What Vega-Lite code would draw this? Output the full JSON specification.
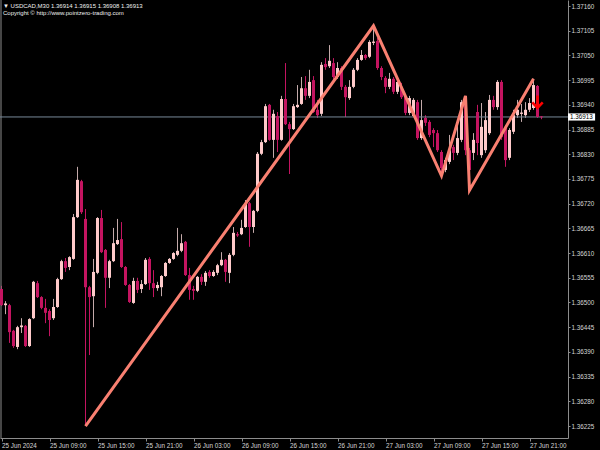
{
  "$schema": "https://vega.github.io/schema/vega-lite/v6.json",
  "width": 568,
  "height": 438,
  "autosize": {"type": "none"},
  "padding": {"left": 0, "top": 0, "right": 32, "bottom": 12},
  "background": "#000000",
  "title": {
    "text": ["▼ USDCAD,M30  1.36914 1.36915 1.36908 1.36913", "Copyright © http://www.pointzero-trading.com"],
    "anchor": "start",
    "frame": "group",
    "orient": "top",
    "offset": -16,
    "baseline": "top",
    "fontSize": 6,
    "lineHeight": 7,
    "font": "Liberation Sans",
    "fontWeight": "normal",
    "color": "#f0f0f0",
    "dx": 3
  },
  "config": {
    "view": {"stroke": null},
    "axis": {
      "domainColor": "#8c8c8c",
      "tickColor": "#8c8c8c",
      "labelColor": "#d6d6d6",
      "labelFont": "Liberation Sans",
      "labelFontSize": 6.3,
      "grid": false,
      "labelFlush": false,
      "labelOverlap": false,
      "tickSize": 3,
      "domainWidth": 1,
      "tickWidth": 1
    }
  },
  "datasets": {
    "candles": [
      {"i":0,"o":1.36530,"h":1.36537,"l":1.36492,"c":1.36494},
      {"i":1,"o":1.36494,"h":1.36503,"l":1.36474,"c":1.36497},
      {"i":2,"o":1.36494,"h":1.36497,"l":1.36410,"c":1.36434},
      {"i":3,"o":1.36437,"h":1.36439,"l":1.36399,"c":1.36403},
      {"i":4,"o":1.36401,"h":1.36448,"l":1.36396,"c":1.36445},
      {"i":5,"o":1.36445,"h":1.36465,"l":1.36432,"c":1.36448},
      {"i":6,"o":1.36448,"h":1.36450,"l":1.36401,"c":1.36403},
      {"i":7,"o":1.36403,"h":1.36465,"l":1.36401,"c":1.36463},
      {"i":8,"o":1.36465,"h":1.36548,"l":1.36463,"c":1.36546},
      {"i":9,"o":1.36543,"h":1.36548,"l":1.36510,"c":1.36512},
      {"i":10,"o":1.36512,"h":1.36514,"l":1.36485,"c":1.36488},
      {"i":11,"o":1.36488,"h":1.36508,"l":1.36454,"c":1.36477},
      {"i":12,"o":1.36481,"h":1.36485,"l":1.36425,"c":1.36461},
      {"i":13,"o":1.36465,"h":1.36508,"l":1.36461,"c":1.36490},
      {"i":14,"o":1.36490,"h":1.36555,"l":1.36488,"c":1.36552},
      {"i":15,"o":1.36552,"h":1.36595,"l":1.36550,"c":1.36592},
      {"i":16,"o":1.36592,"h":1.36599,"l":1.36568,"c":1.36577},
      {"i":17,"o":1.36579,"h":1.36603,"l":1.36572,"c":1.36601},
      {"i":18,"o":1.36597,"h":1.36697,"l":1.36595,"c":1.36690},
      {"i":19,"o":1.36690,"h":1.36802,"l":1.36688,"c":1.36773},
      {"i":20,"o":1.36770,"h":1.36773,"l":1.36697,"c":1.36701},
      {"i":21,"o":1.36686,"h":1.36708,"l":1.36225,"c":1.36534},
      {"i":22,"o":1.36534,"h":1.36537,"l":1.36383,"c":1.36512},
      {"i":23,"o":1.36514,"h":1.36597,"l":1.36445,"c":1.36568},
      {"i":24,"o":1.36566,"h":1.36690,"l":1.36563,"c":1.36688},
      {"i":25,"o":1.36688,"h":1.36706,"l":1.36610,"c":1.36612},
      {"i":26,"o":1.36617,"h":1.36619,"l":1.36488,"c":1.36555},
      {"i":27,"o":1.36555,"h":1.36595,"l":1.36532,"c":1.36592},
      {"i":28,"o":1.36592,"h":1.36666,"l":1.36590,"c":1.36632},
      {"i":29,"o":1.36630,"h":1.36686,"l":1.36628,"c":1.36639},
      {"i":30,"o":1.36641,"h":1.36679,"l":1.36577,"c":1.36579},
      {"i":31,"o":1.36579,"h":1.36581,"l":1.36537,"c":1.36539},
      {"i":32,"o":1.36539,"h":1.36541,"l":1.36499,"c":1.36501},
      {"i":33,"o":1.36499,"h":1.36555,"l":1.36497,"c":1.36548},
      {"i":34,"o":1.36548,"h":1.36555,"l":1.36521,"c":1.36528},
      {"i":35,"o":1.36530,"h":1.36550,"l":1.36521,"c":1.36541},
      {"i":36,"o":1.36541,"h":1.36599,"l":1.36539,"c":1.36595},
      {"i":37,"o":1.36597,"h":1.36601,"l":1.36528,"c":1.36543},
      {"i":38,"o":1.36543,"h":1.36572,"l":1.36512,"c":1.36532},
      {"i":39,"o":1.36532,"h":1.36546,"l":1.36526,"c":1.36539},
      {"i":40,"o":1.36534,"h":1.36561,"l":1.36514,"c":1.36559},
      {"i":41,"o":1.36559,"h":1.36590,"l":1.36557,"c":1.36588},
      {"i":42,"o":1.36588,"h":1.36599,"l":1.36586,"c":1.36597},
      {"i":43,"o":1.36597,"h":1.36612,"l":1.36595,"c":1.36610},
      {"i":44,"o":1.36606,"h":1.36666,"l":1.36603,"c":1.36615},
      {"i":45,"o":1.36615,"h":1.36652,"l":1.36612,"c":1.36632},
      {"i":46,"o":1.36635,"h":1.36637,"l":1.36559,"c":1.36561},
      {"i":47,"o":1.36561,"h":1.36577,"l":1.36506,"c":1.36528},
      {"i":48,"o":1.36530,"h":1.36537,"l":1.36506,"c":1.36526},
      {"i":49,"o":1.36526,"h":1.36559,"l":1.36523,"c":1.36557},
      {"i":50,"o":1.36557,"h":1.36563,"l":1.36539,"c":1.36546},
      {"i":51,"o":1.36546,"h":1.36570,"l":1.36537,"c":1.36566},
      {"i":52,"o":1.36568,"h":1.36572,"l":1.36555,"c":1.36559},
      {"i":53,"o":1.36559,"h":1.36572,"l":1.36557,"c":1.36568},
      {"i":54,"o":1.36566,"h":1.36586,"l":1.36561,"c":1.36583},
      {"i":55,"o":1.36583,"h":1.36612,"l":1.36581,"c":1.36595},
      {"i":56,"o":1.36595,"h":1.36597,"l":1.36546,"c":1.36568},
      {"i":57,"o":1.36566,"h":1.36610,"l":1.36543,"c":1.36606},
      {"i":58,"o":1.36606,"h":1.36668,"l":1.36603,"c":1.36655},
      {"i":59,"o":1.36652,"h":1.36657,"l":1.36646,"c":1.36650},
      {"i":60,"o":1.36652,"h":1.36684,"l":1.36650,"c":1.36666},
      {"i":61,"o":1.36668,"h":1.36728,"l":1.36666,"c":1.36721},
      {"i":62,"o":1.36721,"h":1.36724,"l":1.36624,"c":1.36668},
      {"i":63,"o":1.36668,"h":1.36706,"l":1.36655,"c":1.36704},
      {"i":64,"o":1.36704,"h":1.36835,"l":1.36701,"c":1.36831},
      {"i":65,"o":1.36831,"h":1.36862,"l":1.36828,"c":1.36857},
      {"i":66,"o":1.36857,"h":1.36942,"l":1.36855,"c":1.36937},
      {"i":67,"o":1.36940,"h":1.36942,"l":1.36860,"c":1.36862},
      {"i":68,"o":1.36862,"h":1.36929,"l":1.36822,"c":1.36920},
      {"i":69,"o":1.36915,"h":1.36924,"l":1.36835,"c":1.36862},
      {"i":70,"o":1.36862,"h":1.36960,"l":1.36860,"c":1.36953},
      {"i":71,"o":1.36953,"h":1.37033,"l":1.36895,"c":1.36897},
      {"i":72,"o":1.36897,"h":1.36902,"l":1.36786,"c":1.36886},
      {"i":73,"o":1.36886,"h":1.36942,"l":1.36884,"c":1.36937},
      {"i":74,"o":1.36935,"h":1.36984,"l":1.36933,"c":1.36940},
      {"i":75,"o":1.36942,"h":1.37002,"l":1.36940,"c":1.36977},
      {"i":76,"o":1.36977,"h":1.37004,"l":1.36951,"c":1.36960},
      {"i":77,"o":1.36960,"h":1.37018,"l":1.36955,"c":1.36991},
      {"i":78,"o":1.36995,"h":1.37004,"l":1.36922,"c":1.36924},
      {"i":79,"o":1.36929,"h":1.36951,"l":1.36911,"c":1.36917},
      {"i":80,"o":1.36920,"h":1.37035,"l":1.36915,"c":1.37029},
      {"i":81,"o":1.37031,"h":1.37044,"l":1.37018,"c":1.37024},
      {"i":82,"o":1.37026,"h":1.37073,"l":1.37022,"c":1.37038},
      {"i":83,"o":1.37033,"h":1.37044,"l":1.36995,"c":1.37002},
      {"i":84,"o":1.37002,"h":1.37035,"l":1.36998,"c":1.37022},
      {"i":85,"o":1.37022,"h":1.37026,"l":1.36973,"c":1.36980},
      {"i":86,"o":1.36980,"h":1.36984,"l":1.36913,"c":1.36957},
      {"i":87,"o":1.36955,"h":1.36995,"l":1.36951,"c":1.36980},
      {"i":88,"o":1.36980,"h":1.37022,"l":1.36977,"c":1.37018},
      {"i":89,"o":1.37018,"h":1.37044,"l":1.37015,"c":1.37040},
      {"i":90,"o":1.37040,"h":1.37062,"l":1.37038,"c":1.37051},
      {"i":91,"o":1.37051,"h":1.37053,"l":1.37040,"c":1.37044},
      {"i":92,"o":1.37047,"h":1.37084,"l":1.37044,"c":1.37080},
      {"i":93,"o":1.37078,"h":1.37116,"l":1.37073,"c":1.37080},
      {"i":94,"o":1.37082,"h":1.37089,"l":1.37018,"c":1.37022},
      {"i":95,"o":1.37022,"h":1.37026,"l":1.36995,"c":1.37002},
      {"i":96,"o":1.37000,"h":1.37004,"l":1.36966,"c":1.36980},
      {"i":97,"o":1.36980,"h":1.37011,"l":1.36975,"c":1.36998},
      {"i":98,"o":1.36998,"h":1.37002,"l":1.36964,"c":1.36969},
      {"i":99,"o":1.36969,"h":1.36995,"l":1.36964,"c":1.36991},
      {"i":100,"o":1.36980,"h":1.36989,"l":1.36953,"c":1.36957},
      {"i":101,"o":1.36957,"h":1.36962,"l":1.36917,"c":1.36922},
      {"i":102,"o":1.36922,"h":1.36960,"l":1.36917,"c":1.36955},
      {"i":103,"o":1.36915,"h":1.36955,"l":1.36913,"c":1.36951},
      {"i":104,"o":1.36946,"h":1.36951,"l":1.36862,"c":1.36866},
      {"i":105,"o":1.36866,"h":1.36951,"l":1.36862,"c":1.36906},
      {"i":106,"o":1.36911,"h":1.36917,"l":1.36893,"c":1.36900},
      {"i":107,"o":1.36902,"h":1.36906,"l":1.36868,"c":1.36873},
      {"i":108,"o":1.36884,"h":1.36888,"l":1.36846,"c":1.36877},
      {"i":109,"o":1.36877,"h":1.36884,"l":1.36835,"c":1.36839},
      {"i":110,"o":1.36835,"h":1.36839,"l":1.36782,"c":1.36799},
      {"i":111,"o":1.36795,"h":1.36822,"l":1.36790,"c":1.36817},
      {"i":112,"o":1.36813,"h":1.36873,"l":1.36808,"c":1.36839},
      {"i":113,"o":1.36846,"h":1.36851,"l":1.36817,"c":1.36833},
      {"i":114,"o":1.36833,"h":1.36895,"l":1.36828,"c":1.36866},
      {"i":115,"o":1.36862,"h":1.36951,"l":1.36857,"c":1.36946},
      {"i":116,"o":1.36946,"h":1.36960,"l":1.36828,"c":1.36839},
      {"i":117,"o":1.36839,"h":1.36844,"l":1.36750,"c":1.36795},
      {"i":118,"o":1.36833,"h":1.36877,"l":1.36817,"c":1.36862},
      {"i":119,"o":1.36924,"h":1.36940,"l":1.36828,"c":1.36855},
      {"i":120,"o":1.36828,"h":1.36944,"l":1.36822,"c":1.36891},
      {"i":121,"o":1.36839,"h":1.36924,"l":1.36833,"c":1.36906},
      {"i":122,"o":1.36877,"h":1.36962,"l":1.36873,"c":1.36951},
      {"i":123,"o":1.36951,"h":1.36960,"l":1.36929,"c":1.36935},
      {"i":124,"o":1.36935,"h":1.36995,"l":1.36929,"c":1.36991},
      {"i":125,"o":1.36991,"h":1.36995,"l":1.36862,"c":1.36868},
      {"i":126,"o":1.36891,"h":1.36895,"l":1.36802,"c":1.36817},
      {"i":127,"o":1.36822,"h":1.36888,"l":1.36817,"c":1.36884},
      {"i":128,"o":1.36880,"h":1.36929,"l":1.36875,"c":1.36917},
      {"i":129,"o":1.36917,"h":1.36951,"l":1.36911,"c":1.36929},
      {"i":130,"o":1.36920,"h":1.36942,"l":1.36902,"c":1.36922},
      {"i":131,"o":1.36917,"h":1.36946,"l":1.36911,"c":1.36929},
      {"i":132,"o":1.36929,"h":1.36955,"l":1.36924,"c":1.36944},
      {"i":133,"o":1.36933,"h":1.36998,"l":1.36929,"c":1.36984},
      {"i":134,"o":1.36982,"h":1.36984,"l":1.36911,"c":1.36913},
      {"i":135,"o":1.36914,"h":1.36915,"l":1.36908,"c":1.36913}
    ],
    "zig": [
      {"i":21,"p":1.36225},
      {"i":93,"p":1.37116},
      {"i":110,"p":1.36782},
      {"i":116,"p":1.36960},
      {"i":117,"p":1.36750},
      {"i":133,"p":1.36998}
    ]
  },
  "layer": [
    {
      "data": {"name": "candles"},
      "mark": {"type": "rule", "strokeWidth": 1},
      "encoding": {
        "x": {
          "field": "i", "type": "quantitative",
          "scale": {"domain": [-0.375, 141.625], "nice": false, "zero": false, "padding": 0},
          "axis": {
            "title": null,
            "orient": "bottom",
            "values": [0,12,24,36,48,60,72,84,96,108,120,132],
            "tickCount": 40,
            "labelExpr": "['25 Jun 2024','25 Jun 09:00','25 Jun 15:00','25 Jun 21:00','26 Jun 03:00','26 Jun 09:00','26 Jun 15:00','26 Jun 21:00','27 Jun 03:00','27 Jun 09:00','27 Jun 15:00','27 Jun 21:00'][round(datum.value/12)]",
            "labelAlign": "left",
            "labelBaseline": "top",
            "labelPadding": 1,
            "labelOverlap": false,
            "tickSize": 3
          }
        },
        "y": {
          "field": "l", "type": "quantitative",
          "scale": {"domain": [1.361983, 1.371734], "nice": false, "zero": false},
          "axis": {
            "title": null,
            "orient": "right",
            "values": [1.36225,1.3628,1.36335,1.3639,1.36445,1.365,1.36555,1.3661,1.36665,1.3672,1.36775,1.3683,1.36885,1.3694,1.36995,1.3705,1.37105,1.3716],
            "tickCount": 40,
            "format": ".5f",
            "labelAlign": "left",
            "labelBaseline": "middle",
            "labelPadding": 1,
            "labelOverlap": false,
            "tickSize": 2
          }
        },
        "y2": {"field": "h"},
        "color": {"condition": {"test": "datum.c >= datum.o", "value": "#c4aaaa"}, "value": "#c41460"}
      }
    },
    {
      "data": {"values": [{"x": -0.125}]},
      "mark": {"type": "rule", "color": "#8c8c8c", "strokeWidth": 1},
      "encoding": {"x": {"field": "x", "type": "quantitative", "axis": {"title": null}}}
    },
    {
      "data": {"values": [{"p": 1.36913}]},
      "mark": {"type": "rule", "color": "#778899", "strokeWidth": 1},
      "encoding": {"y": {"field": "p", "type": "quantitative", "axis": {"title": null}}}
    },
    {
      "data": {"name": "candles"},
      "mark": {"type": "bar", "width": 3},
      "encoding": {
        "x": {"field": "i", "type": "quantitative", "axis": {"title": null}},
        "y": {"field": "o", "type": "quantitative", "axis": {"title": null}},
        "y2": {"field": "c"},
        "color": {"condition": {"test": "datum.c >= datum.o", "value": "#ffcaca"}, "value": "#c41460"}
      }
    },
    {
      "data": {"name": "candles"},
      "transform": [{"filter": "abs(datum.c - datum.o) < 0.00003"}],
      "mark": {"type": "tick", "orient": "horizontal", "thickness": 1, "size": 3},
      "encoding": {
        "x": {"field": "i", "type": "quantitative", "axis": {"title": null}},
        "y": {"field": "c", "type": "quantitative", "axis": {"title": null}},
        "color": {"condition": {"test": "datum.c >= datum.o", "value": "#ffcaca"}, "value": "#c41460"}
      }
    },
    {
      "data": {"name": "zig"},
      "mark": {"type": "line", "color": "#f98071", "strokeWidth": 3},
      "encoding": {
        "x": {"field": "i", "type": "quantitative", "axis": {"title": null}},
        "y": {"field": "p", "type": "quantitative", "axis": {"title": null}}
      }
    },
    {
      "data": {"values": [{"i": 134, "p": 1.36947}]},
      "mark": {"type": "point", "shape": "M0,-1L0,1M-0.85,0.1L0,1L0.85,0.1", "filled": false, "stroke": "#ff0000", "strokeWidth": 2.6, "size": 150, "opacity": 1},
      "encoding": {
        "x": {"field": "i", "type": "quantitative", "axis": {"title": null}},
        "y": {"field": "p", "type": "quantitative", "axis": {"title": null}}
      }
    },
    {
      "data": {"values": [{"a": 141.625, "b": 148.4, "p1": 1.36921, "p2": 1.36905, "p": 1.36913}]},
      "layer": [
        {
          "mark": {"type": "rect", "color": "#ffffff"},
          "encoding": {
            "x": {"field": "a", "type": "quantitative", "axis": {"title": null}},
            "x2": {"field": "b"},
            "y": {"field": "p1", "type": "quantitative", "axis": {"title": null}},
            "y2": {"field": "p2"}
          }
        },
        {
          "mark": {"type": "text", "align": "left", "baseline": "middle", "dx": 2, "font": "Liberation Sans", "fontSize": 6.3, "color": "#000000"},
          "encoding": {
            "x": {"field": "a", "type": "quantitative", "axis": {"title": null}},
            "y": {"field": "p", "type": "quantitative", "axis": {"title": null}},
            "text": {"field": "p", "type": "quantitative", "format": ".5f"}
          }
        }
      ]
    }
  ]
}
